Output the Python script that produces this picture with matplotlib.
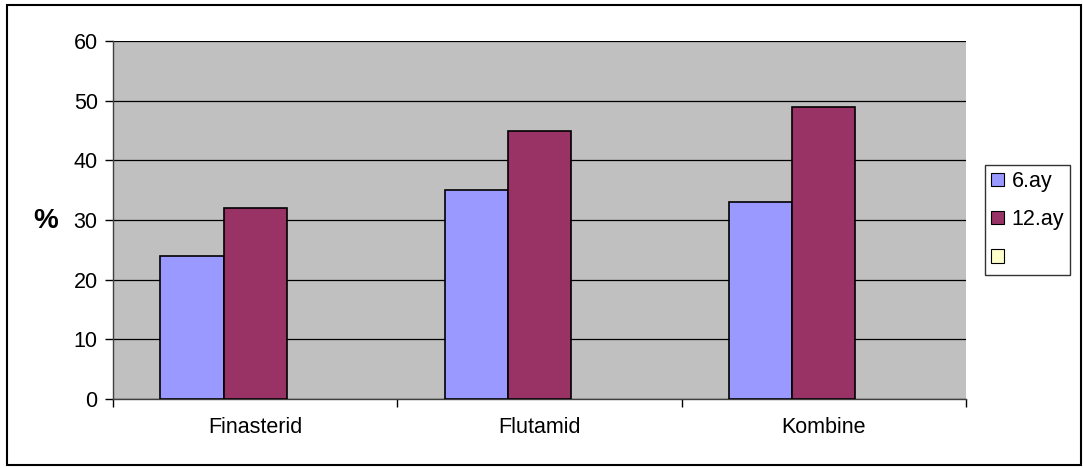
import numpy as np
import matplotlib.pyplot as plt
from matplotlib.patches import Patch, Rectangle

plt.rcParams['font.family'] = ['Liberation Sans', 'DejaVu Sans']

categories = ['Finasterid', 'Flutamid', 'Kombine']
ay6 = [24, 35, 33]
ay12 = [32, 45, 49]
series_names = ['6.ay', '12.ay', '']
colors = ['#9999FF', '#993366', '#FFFFCC']

fig = plt.figure(figsize=(10.83, 4.68), dpi=100)
ax = fig.add_axes([113/1083, 1-399/468, (966-113)/1083, (399-41)/468])
ax.set_facecolor('#C0C0C0')

x = np.arange(len(categories))
w = 1/4.5
# third series is empty but still takes its slot
ax.bar(x - w, ay6, w, align='center', color=colors[0], edgecolor='black', linewidth=1.2, zorder=3)
ax.bar(x, ay12, w, align='center', color=colors[1], edgecolor='black', linewidth=1.2, zorder=3)

fs = 15.5
ax.set_xlim(-0.5, len(categories) - 0.5)
ax.set_ylim(0, 60)
ax.set_yticks(range(0, 61, 10))
ax.tick_params(axis='y', labelsize=fs, length=6, direction='out', width=1, pad=5)
ax.set_xticks(np.arange(-0.5, len(categories), 1))
ax.set_xticklabels([])
ax.set_xticks(x, minor=True)
ax.set_xticklabels(categories, minor=True, fontsize=fs)
ax.tick_params(axis='x', which='major', length=6, width=1, direction='out')
ax.tick_params(axis='x', which='minor', length=0, pad=13)
ax.yaxis.grid(True, color='black', linewidth=0.9)
ax.set_axisbelow(True)
for s in ['top', 'right']:
    ax.spines[s].set_visible(False)
ax.spines['left'].set_linewidth(1)
ax.spines['bottom'].set_linewidth(1)
ax.spines['bottom'].set_color('#404040')
ax.spines['left'].set_color('#404040')

fig.text(46/1083, 1-221/468, '%', fontsize=20, fontweight='bold', ha='center', va='center')

handles = [Patch(facecolor=c, edgecolor='black', linewidth=0.8) for c in colors]
leg = fig.legend(handles, series_names, loc='upper left', bbox_to_anchor=(985/1083, 1-165/468),
                 fontsize=fs, frameon=True, fancybox=False, edgecolor='black',
                 handlelength=0.6, handleheight=0.6, handletextpad=0.35,
                 labelspacing=0.8, borderpad=0.28, borderaxespad=0)
leg.get_frame().set_linewidth(1)

fig.patches.append(Rectangle((7/1083, 1-465/468), (1081-7)/1083, (465-5)/468,
                             transform=fig.transFigure, fill=False, edgecolor='black', linewidth=1.5))

plt.savefig('out.png', dpi=100)
